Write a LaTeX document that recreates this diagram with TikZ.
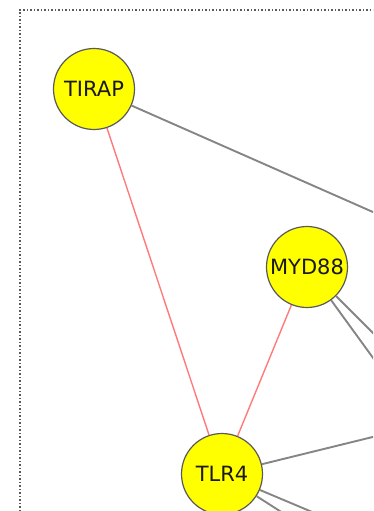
\documentclass[tikz,border=0pt]{standalone}
\usepackage{fontspec}
\setmainfont{DejaVu Sans}
\usetikzlibrary{positioning}
\definecolor{edgegray}{HTML}{858585}
\definecolor{edgered}{HTML}{FF7B7B}
\definecolor{nodeyellow}{HTML}{FFFF00}
\definecolor{rimgray}{HTML}{5A5A5A}
\tikzset{
  gene/.style={circle, fill=nodeyellow, draw=rimgray, line width=1.2pt, minimum size=81pt, inner sep=0pt, text=black!90, font=\fontsize{21}{21}\selectfont},
  link/.style={draw=edgegray, line width=1.9pt},
  redlink/.style={draw=edgered, line width=1.4pt}
}

\begin{document}
\begin{tikzpicture}[x=1pt, y=-1pt]
\useasboundingbox (0,0) rectangle (373,511);
\clip (0,0) rectangle (373,511);

% Frame
\draw[rimgray, line width=1.5pt, dotted] (20,511) -- (20,10) -- (380,10);

% Genes
\node[gene] (tirap) at (94,89) {TIRAP};
\node[gene] (myd88) at (307,267) {MYD88};
\node[gene] (tlr4) at (222,474) {TLR4};

% Off-screen partners
\coordinate (outA) at (450,246);
\coordinate (outB) at (420,380);
\coordinate (outC) at (400,395);
\coordinate (outD) at (450,418);
\coordinate (outE) at (400,549);
\coordinate (outF) at (350,556);

% Edges
\draw[redlink] (tirap) -- (tlr4);
\draw[redlink] (myd88) -- (tlr4);
\draw[link] (tirap) -- (outA);
\draw[link] (myd88) -- (outB);
\draw[link] (myd88) -- (outC);
\draw[link] (tlr4) -- (outD);
\draw[link] (tlr4) -- (outE);
\draw[link] (tlr4) -- (outF);
\end{tikzpicture}
\end{document}
